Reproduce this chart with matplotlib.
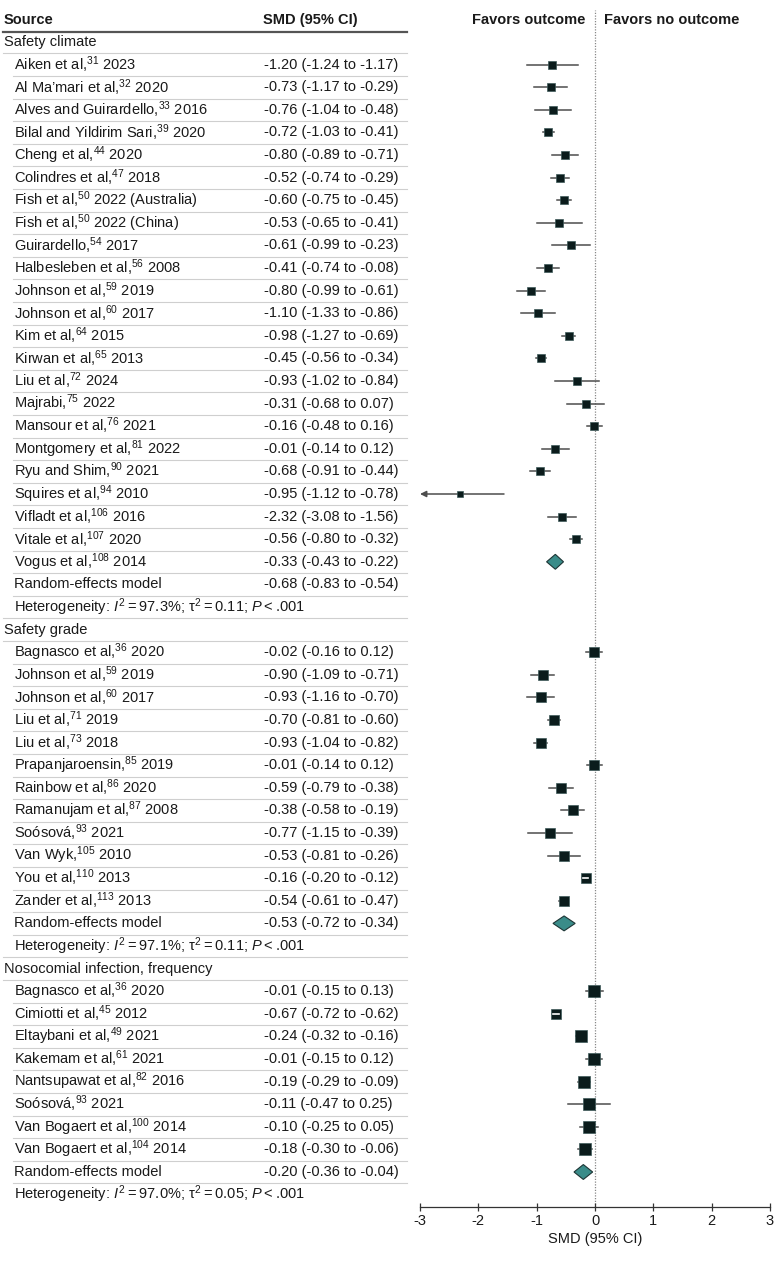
import numpy as np
import matplotlib
matplotlib.use("Agg")
import matplotlib.pyplot as plt
from matplotlib import transforms, font_manager
from matplotlib.patches import Polygon

names = {f.name for f in font_manager.fontManager.ttflist}
main_font = "Liberation Sans Narrow" if "Liberation Sans Narrow" in names else "Liberation Sans"
plt.rcParams["font.family"] = [main_font, "DejaVu Sans"]
plt.rcParams["mathtext.fontset"] = "custom"
plt.rcParams["mathtext.rm"] = main_font
plt.rcParams["mathtext.it"] = main_font + ":italic"
plt.rcParams["mathtext.bf"] = main_font + ":bold"

# ---- data ----
climate_names = ["Aiken et al,$^{31}$ 2023", "Al Ma’mari et al,$^{32}$ 2020",
                 "Alves and Guirardello,$^{33}$ 2016", "Bilal and Yildirim Sari,$^{39}$ 2020",
                 "Cheng et al,$^{44}$ 2020", "Colindres et al,$^{47}$ 2018",
                 "Fish et al,$^{50}$ 2022 (Australia)", "Fish et al,$^{50}$ 2022 (China)",
                 "Guirardello,$^{54}$ 2017", "Halbesleben et al,$^{56}$ 2008",
                 "Johnson et al,$^{59}$ 2019", "Johnson et al,$^{60}$ 2017",
                 "Kim et al,$^{64}$ 2015", "Kirwan et al,$^{65}$ 2013", "Liu et al,$^{72}$ 2024",
                 "Majrabi,$^{75}$ 2022", "Mansour et al,$^{76}$ 2021",
                 "Montgomery et al,$^{81}$ 2022", "Ryu and Shim,$^{90}$ 2021",
                 "Squires et al,$^{94}$ 2010", "Vifladt et al,$^{106}$ 2016",
                 "Vitale et al,$^{107}$ 2020", "Vogus et al,$^{108}$ 2014"]
climate_smd = [-1.20, -0.73, -0.76, -0.72, -0.80, -0.52, -0.60, -0.53, -0.61, -0.41, -0.80,
               -1.10, -0.98, -0.45, -0.93, -0.31, -0.16, -0.01, -0.68, -0.95, -2.32, -0.56, -0.33]
climate_lo = [-1.24, -1.17, -1.04, -1.03, -0.89, -0.74, -0.75, -0.65, -0.99, -0.74, -0.99,
              -1.33, -1.27, -0.56, -1.02, -0.68, -0.48, -0.14, -0.91, -1.12, -3.08, -0.80, -0.43]
climate_hi = [-1.17, -0.29, -0.48, -0.41, -0.71, -0.29, -0.45, -0.41, -0.23, -0.08, -0.61,
              -0.86, -0.69, -0.34, -0.84, 0.07, 0.16, 0.12, -0.44, -0.78, -1.56, -0.32, -0.22]
climate_w = [4.5, 4.2, 4.3, 4.5, 4.6, 4.4, 4.5, 4.5, 4.2, 4.3, 4.4, 4.3, 4.4, 4.6, 4.6,
             4.2, 4.3, 4.6, 4.4, 4.5, 2.6, 4.5, 4.6]
climate_re = (-0.68, -0.83, -0.54)
climate_het = ("97.3%", "0.11")

grade_names = ["Bagnasco et al,$^{36}$ 2020", "Johnson et al,$^{59}$ 2019",
               "Johnson et al,$^{60}$ 2017", "Liu et al,$^{71}$ 2019", "Liu et al,$^{73}$ 2018",
               "Prapanjaroensin,$^{85}$ 2019", "Rainbow et al,$^{86}$ 2020",
               "Ramanujam et al,$^{87}$ 2008", "Soósová,$^{93}$ 2021", "Van Wyk,$^{105}$ 2010",
               "You et al,$^{110}$ 2013", "Zander et al,$^{113}$ 2013"]
grade_smd = [-0.02, -0.90, -0.93, -0.70, -0.93, -0.01, -0.59, -0.38, -0.77, -0.53, -0.16, -0.54]
grade_lo = [-0.16, -1.09, -1.16, -0.81, -1.04, -0.14, -0.79, -0.58, -1.15, -0.81, -0.20, -0.61]
grade_hi = [0.12, -0.71, -0.70, -0.60, -0.82, 0.12, -0.38, -0.19, -0.39, -0.26, -0.12, -0.47]
grade_w = [8.3, 8.0, 8.0, 7.4, 7.8, 8.3, 8.0, 8.0, 8.3, 8.0, 7.2, 6.8]
grade_re = (-0.53, -0.72, -0.34)
grade_het = ("97.1%", "0.11")

infect_names = ["Bagnasco et al,$^{36}$ 2020", "Cimiotti et al,$^{45}$ 2012",
                "Eltaybani et al,$^{49}$ 2021", "Kakemam et al,$^{61}$ 2021",
                "Nantsupawat et al,$^{82}$ 2016", "Soósová,$^{93}$ 2021",
                "Van Bogaert et al,$^{100}$ 2014", "Van Bogaert et al,$^{104}$ 2014"]
infect_smd = [-0.01, -0.67, -0.24, -0.01, -0.19, -0.11, -0.10, -0.18]
infect_lo = [-0.15, -0.72, -0.32, -0.15, -0.29, -0.47, -0.25, -0.30]
infect_hi = [0.13, -0.62, -0.16, 0.12, -0.09, 0.25, 0.05, -0.06]
infect_w = [10.2, 8.8, 9.6, 10.2, 9.6, 9.6, 9.8, 9.8]
infect_re = (-0.20, -0.36, -0.04)
infect_het = ("97.0%", "0.05")

groups = [("Safety climate", climate_names, climate_smd, climate_lo, climate_hi, climate_w,
           climate_re, climate_het, 1),
          ("Safety grade", grade_names, grade_smd, grade_lo, grade_hi, grade_w,
           grade_re, grade_het, 0),
          ("Nosocomial infection, frequency", infect_names, infect_smd, infect_lo, infect_hi,
           infect_w, infect_re, infect_het, 0)]

xticks = [-3, -2, -1, 0, 1, 2, 3]

# ---- layout ----
W, H = 780, 1261
fig = plt.figure(figsize=(W / 100, H / 100), dpi=100)
row0, step = 42.0, 22.6
ax_top, ax_bot = 10, 1207
ax = fig.add_axes([420 / W, 1 - ax_bot / H, 350 / W, (ax_bot - ax_top) / H])
ax.set_xlim(-3, 3)
ax.set_ylim((ax_bot - row0) / step, (ax_top - row0) / step)
px_per_unit = 350 / 6

blend = transforms.blended_transform_factory(fig.transFigure, ax.transData)
fs = 10.5
txt_col = "#1a1a1a"
box_col = "#0b1c1c"
line_col = "#4d4d4d"
ts = "\u2009"


def sep(y, x0, lw=0.8, color="#cfcfcf"):
    ax.plot([x0 / W, 407 / W], [y, y], transform=blend, color=color, lw=lw, clip_on=False)


hdr = -0.97
ax.text(4 / W, hdr, "Source", transform=blend, fontsize=fs, fontweight="bold", va="center", color=txt_col)
ax.text(263 / W, hdr, "SMD (95% CI)", transform=blend, fontsize=fs, fontweight="bold", va="center", color=txt_col)
ax.text(-0.17, hdr, "Favors outcome", fontsize=fs, fontweight="bold", va="center", ha="right", color=txt_col)
ax.text(0.15, hdr, "Favors no outcome", fontsize=fs, fontweight="bold", va="center", ha="left", color=txt_col)
sep(-0.46, 3, lw=1.6, color="#555555")

r = 0
for title, nm, smd, lo, hi, w, re, het, shift in groups:
    ax.text(4 / W, r, title, transform=blend, fontsize=fs, va="center", color=txt_col)
    sep(r + 0.5, 3)
    first = r + 1
    for i in range(len(nm)):
        rr = first + i
        ax.text(14 / W, rr, nm[i], transform=blend, fontsize=fs, va="center", color=txt_col)
        ax.text(264 / W, rr, f"{smd[i]:.2f} ({lo[i]:.2f} to {hi[i]:.2f})", transform=blend,
                fontsize=fs, va="center", color=txt_col)
        sep(rr + 0.5, 13)
    rr_re = first + len(nm)
    ax.text(14 / W, rr_re, "Random-effects model", transform=blend, fontsize=fs, va="center", color=txt_col)
    ax.text(264 / W, rr_re, f"{re[0]:.2f} ({re[1]:.2f} to {re[2]:.2f})", transform=blend,
            fontsize=fs, va="center", color=txt_col)
    sep(rr_re + 0.5, 13)
    ax.text(14 / W, rr_re + 1,
            r"Heterogeneity: $\mathit{I}^2$" + ts + "=" + ts + het[0] + "; τ$^2$" + ts + "=" + ts
            + het[1] + r"; $\mathit{P}$" + ts + "<" + ts + ".001",
            transform=blend, fontsize=fs, va="center", color=txt_col)
    if title != groups[-1][0]:
        sep(rr_re + 1.5, 3)

    # markers (the reference draws the safety-climate markers one row higher)
    for i in range(len(nm)):
        yy = first + i - shift
        if yy < first:
            continue
        side = 3.6 * np.sqrt(w[i])          # box side in px
        half = side / 2 / px_per_unit
        if lo[i] < -3:
            ax.annotate("", xy=(-3, yy), xytext=(hi[i], yy),
                        arrowprops=dict(arrowstyle="-|>", color=line_col, lw=1.1,
                                        mutation_scale=9, shrinkA=0, shrinkB=0))
        else:
            ax.plot([lo[i], hi[i]], [yy, yy], color=line_col, lw=1.1, zorder=2)
        ax.plot(smd[i], yy, marker="s", ms=side * 0.72, color=box_col,
                mec="#3f5a5a", mew=0.5, zorder=3)
        if (hi[i] - lo[i]) < 0.72 * 2 * half:
            ax.plot([lo[i], hi[i]], [yy, yy], color="white", lw=1.2, zorder=4)
    yd = rr_re - shift
    dh = 0.33
    ax.add_patch(Polygon([(re[1], yd), (re[0], yd - dh), (re[2], yd), (re[0], yd + dh)],
                         closed=True, facecolor="#3a8c89", edgecolor="#1d3535", lw=0.8, zorder=3))
    r = rr_re + 2

ax.axvline(0, color="#888888", ls=(0, (1, 1.2)), lw=0.9, zorder=1)
for s in ["left", "right", "top"]:
    ax.spines[s].set_visible(False)
ax.spines["bottom"].set_color("#333333")
ax.spines["bottom"].set_linewidth(0.9)
ax.set_yticks([])
ax.set_xticks(xticks)
ax.set_xticklabels([f"{t:d}" for t in xticks])
ax.tick_params(axis="x", direction="inout", length=6, width=0.9, colors="#333333",
               labelsize=fs, labelcolor=txt_col, pad=2)
ax.set_xlabel("SMD (95% CI)", fontsize=fs, color=txt_col, labelpad=3)

fig.savefig("out.png", dpi=100)
